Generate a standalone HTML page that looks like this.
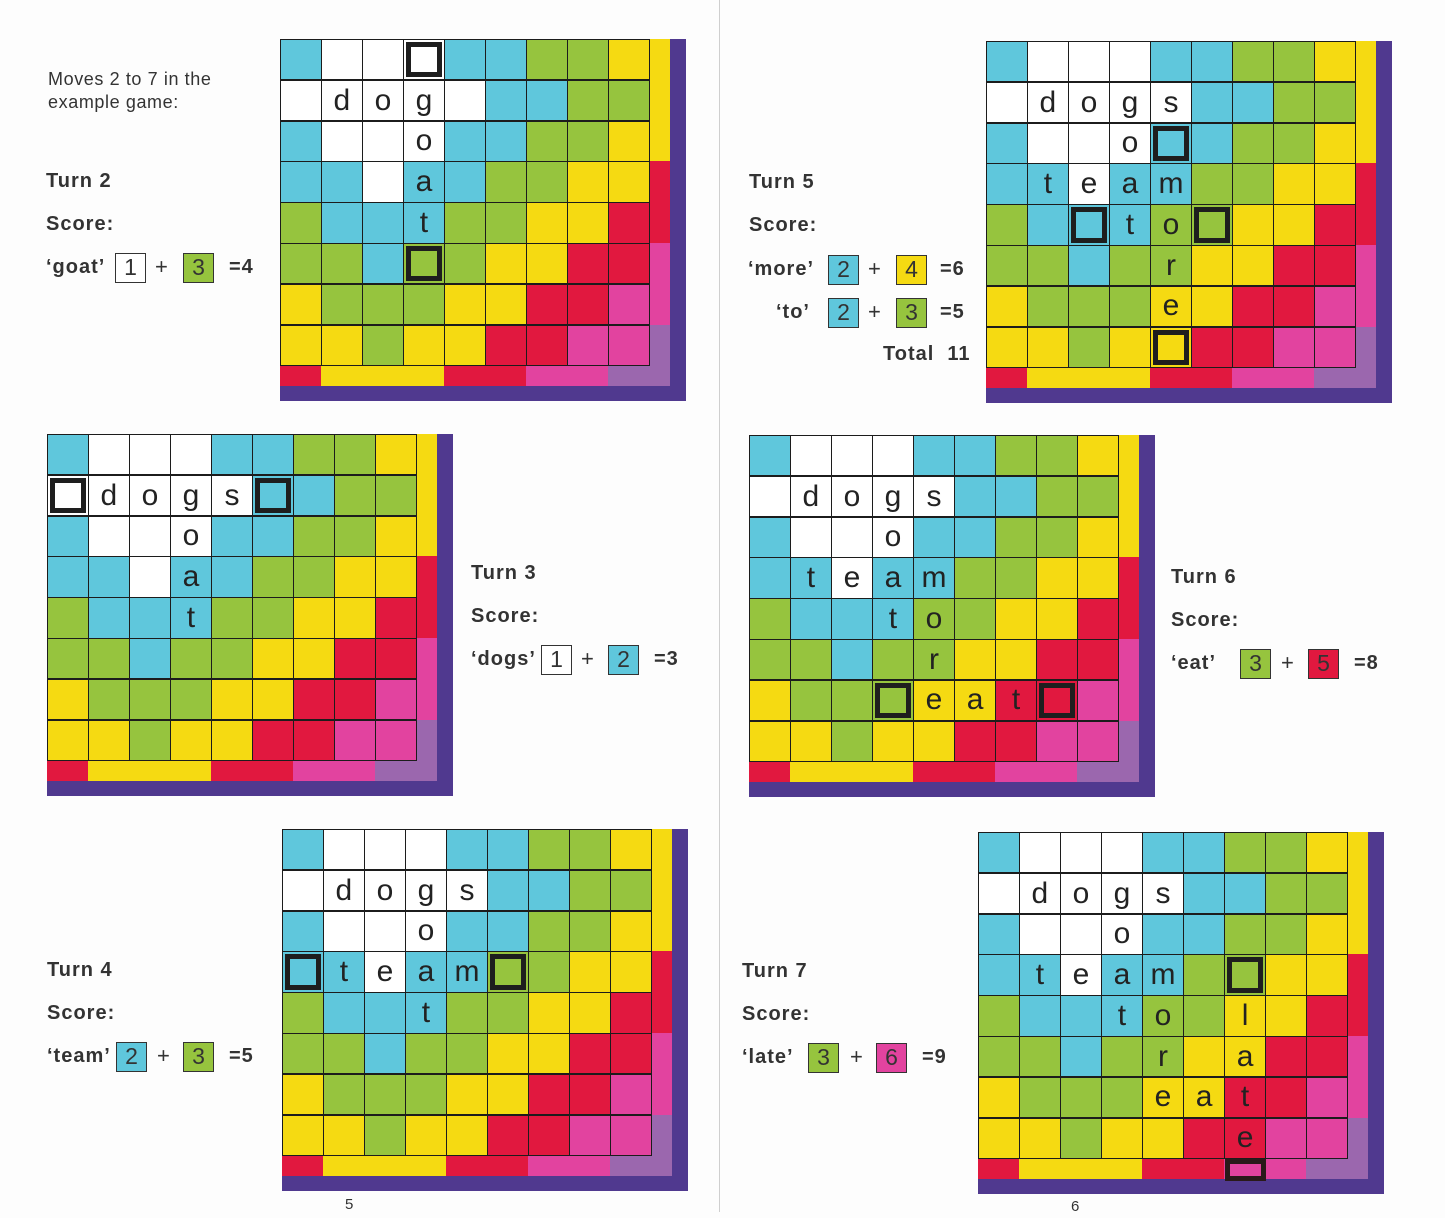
<!DOCTYPE html>
<html><head><meta charset="utf-8"><style>
*{margin:0;padding:0;box-sizing:border-box}
body{width:1445px;height:1212px;background:#fdfdfd;position:relative;overflow:hidden;font-family:"Liberation Sans",sans-serif;color:#2a2a2a}
.fold{position:absolute;left:719px;top:0;width:1px;height:1212px;background:#cfcfcf}
.bd{position:absolute;width:406px;height:362px;background:#50398f}
.gr{position:absolute;left:0;top:0;width:370px;height:327px;background:#1c1c1c;padding:1px;display:grid;grid-template-columns:repeat(9,1fr);grid-template-rows:repeat(8,1fr);gap:1.4px}
.gr div{position:relative;display:flex;align-items:center;justify-content:center;font-size:30px;color:#222;line-height:1}
.c{background:#5fc7dc}.g{background:#96c43e}.y{background:#f5da12}.r{background:#e1183f}.p{background:#e2439f}.w{background:#fff}.l{background:#9b67ae}
.gr div.b::after{content:"";position:absolute;left:2px;top:2px;right:2px;bottom:2px;border:5px solid #1e1e1e}
.s{position:absolute}
.t{position:absolute;font-weight:bold;font-size:20px;letter-spacing:1px;color:#333;white-space:nowrap}
.n{position:absolute;font-size:18px;letter-spacing:0.6px;color:#333;line-height:23px}
.k{position:absolute;width:31px;height:30px;border:1.5px solid #333;font-size:23px;text-align:center;line-height:27px;color:#333}
.pl{position:absolute;font-size:22px;color:#333}
</style></head><body>
<div class="fold"></div>

<div class="n" style="left:48px;top:68px">Moves 2 to 7 in the<br>example game:</div>

<!-- B1 Turn 2 -->
<div class="bd" style="left:280px;top:39px">
<div class="gr">
<div class="c"></div><div class="w"></div><div class="w"></div><div class="w b"></div><div class="c"></div><div class="c"></div><div class="g"></div><div class="g"></div><div class="y"></div>
<div class="w"></div><div class="w">d</div><div class="w">o</div><div class="w">g</div><div class="w"></div><div class="c"></div><div class="c"></div><div class="g"></div><div class="g"></div>
<div class="c"></div><div class="w"></div><div class="w"></div><div class="w">o</div><div class="c"></div><div class="c"></div><div class="g"></div><div class="g"></div><div class="y"></div>
<div class="c"></div><div class="c"></div><div class="w"></div><div class="c">a</div><div class="c"></div><div class="g"></div><div class="g"></div><div class="y"></div><div class="y"></div>
<div class="g"></div><div class="c"></div><div class="c"></div><div class="c">t</div><div class="g"></div><div class="g"></div><div class="y"></div><div class="y"></div><div class="r"></div>
<div class="g"></div><div class="g"></div><div class="c"></div><div class="g b"></div><div class="g"></div><div class="y"></div><div class="y"></div><div class="r"></div><div class="r"></div>
<div class="y"></div><div class="g"></div><div class="g"></div><div class="g"></div><div class="y"></div><div class="y"></div><div class="r"></div><div class="r"></div><div class="p"></div>
<div class="y"></div><div class="y"></div><div class="g"></div><div class="y"></div><div class="y"></div><div class="r"></div><div class="r"></div><div class="p"></div><div class="p"></div>
</div>
<div class="s y" style="left:370px;top:0;width:20px;height:122px"></div><div class="s r" style="left:370px;top:122px;width:20px;height:82px"></div><div class="s p" style="left:370px;top:204px;width:20px;height:82px"></div><div class="s l" style="left:370px;top:286px;width:20px;height:61px"></div>
<div class="s r" style="left:0;top:327px;width:41px;height:20px"></div><div class="s y" style="left:41px;top:327px;width:123px;height:20px"></div><div class="s r" style="left:164px;top:327px;width:82px;height:20px"></div><div class="s p" style="left:246px;top:327px;width:82px;height:20px"></div><div class="s l" style="left:328px;top:327px;width:62px;height:20px"></div>
</div>
<div class="t" style="left:46px;top:170px">Turn 2</div>
<div class="t" style="left:46px;top:213px">Score:</div>
<div class="t" style="left:46px;top:256px">‘goat’</div>
<div class="k w" style="left:115px;top:253px">1</div><div class="pl" style="left:155px;top:254px">+</div><div class="k g" style="left:183px;top:253px">3</div><div class="t" style="left:229px;top:256px">=4</div>

<!-- B2 Turn 3 -->
<div class="bd" style="left:47px;top:434px">
<div class="gr">
<div class="c"></div><div class="w"></div><div class="w"></div><div class="w"></div><div class="c"></div><div class="c"></div><div class="g"></div><div class="g"></div><div class="y"></div>
<div class="w b"></div><div class="w">d</div><div class="w">o</div><div class="w">g</div><div class="w">s</div><div class="c b"></div><div class="c"></div><div class="g"></div><div class="g"></div>
<div class="c"></div><div class="w"></div><div class="w"></div><div class="w">o</div><div class="c"></div><div class="c"></div><div class="g"></div><div class="g"></div><div class="y"></div>
<div class="c"></div><div class="c"></div><div class="w"></div><div class="c">a</div><div class="c"></div><div class="g"></div><div class="g"></div><div class="y"></div><div class="y"></div>
<div class="g"></div><div class="c"></div><div class="c"></div><div class="c">t</div><div class="g"></div><div class="g"></div><div class="y"></div><div class="y"></div><div class="r"></div>
<div class="g"></div><div class="g"></div><div class="c"></div><div class="g"></div><div class="g"></div><div class="y"></div><div class="y"></div><div class="r"></div><div class="r"></div>
<div class="y"></div><div class="g"></div><div class="g"></div><div class="g"></div><div class="y"></div><div class="y"></div><div class="r"></div><div class="r"></div><div class="p"></div>
<div class="y"></div><div class="y"></div><div class="g"></div><div class="y"></div><div class="y"></div><div class="r"></div><div class="r"></div><div class="p"></div><div class="p"></div>
</div>
<div class="s y" style="left:370px;top:0;width:20px;height:122px"></div><div class="s r" style="left:370px;top:122px;width:20px;height:82px"></div><div class="s p" style="left:370px;top:204px;width:20px;height:82px"></div><div class="s l" style="left:370px;top:286px;width:20px;height:61px"></div>
<div class="s r" style="left:0;top:327px;width:41px;height:20px"></div><div class="s y" style="left:41px;top:327px;width:123px;height:20px"></div><div class="s r" style="left:164px;top:327px;width:82px;height:20px"></div><div class="s p" style="left:246px;top:327px;width:82px;height:20px"></div><div class="s l" style="left:328px;top:327px;width:62px;height:20px"></div>
</div>
<div class="t" style="left:471px;top:562px">Turn 3</div>
<div class="t" style="left:471px;top:605px">Score:</div>
<div class="t" style="left:471px;top:648px">‘dogs’</div>
<div class="k w" style="left:541px;top:645px">1</div><div class="pl" style="left:581px;top:646px">+</div><div class="k c" style="left:608px;top:645px">2</div><div class="t" style="left:654px;top:648px">=3</div>

<!-- B3 Turn 4 -->
<div class="bd" style="left:282px;top:829px">
<div class="gr">
<div class="c"></div><div class="w"></div><div class="w"></div><div class="w"></div><div class="c"></div><div class="c"></div><div class="g"></div><div class="g"></div><div class="y"></div>
<div class="w"></div><div class="w">d</div><div class="w">o</div><div class="w">g</div><div class="w">s</div><div class="c"></div><div class="c"></div><div class="g"></div><div class="g"></div>
<div class="c"></div><div class="w"></div><div class="w"></div><div class="w">o</div><div class="c"></div><div class="c"></div><div class="g"></div><div class="g"></div><div class="y"></div>
<div class="c b"></div><div class="c">t</div><div class="w">e</div><div class="c">a</div><div class="c">m</div><div class="g b"></div><div class="g"></div><div class="y"></div><div class="y"></div>
<div class="g"></div><div class="c"></div><div class="c"></div><div class="c">t</div><div class="g"></div><div class="g"></div><div class="y"></div><div class="y"></div><div class="r"></div>
<div class="g"></div><div class="g"></div><div class="c"></div><div class="g"></div><div class="g"></div><div class="y"></div><div class="y"></div><div class="r"></div><div class="r"></div>
<div class="y"></div><div class="g"></div><div class="g"></div><div class="g"></div><div class="y"></div><div class="y"></div><div class="r"></div><div class="r"></div><div class="p"></div>
<div class="y"></div><div class="y"></div><div class="g"></div><div class="y"></div><div class="y"></div><div class="r"></div><div class="r"></div><div class="p"></div><div class="p"></div>
</div>
<div class="s y" style="left:370px;top:0;width:20px;height:122px"></div><div class="s r" style="left:370px;top:122px;width:20px;height:82px"></div><div class="s p" style="left:370px;top:204px;width:20px;height:82px"></div><div class="s l" style="left:370px;top:286px;width:20px;height:61px"></div>
<div class="s r" style="left:0;top:327px;width:41px;height:20px"></div><div class="s y" style="left:41px;top:327px;width:123px;height:20px"></div><div class="s r" style="left:164px;top:327px;width:82px;height:20px"></div><div class="s p" style="left:246px;top:327px;width:82px;height:20px"></div><div class="s l" style="left:328px;top:327px;width:62px;height:20px"></div>
</div>
<div class="t" style="left:47px;top:959px">Turn 4</div>
<div class="t" style="left:47px;top:1002px">Score:</div>
<div class="t" style="left:47px;top:1045px">‘team’</div>
<div class="k c" style="left:116px;top:1042px">2</div><div class="pl" style="left:157px;top:1043px">+</div><div class="k g" style="left:183px;top:1042px">3</div><div class="t" style="left:229px;top:1045px">=5</div>

<!-- B4 Turn 5 -->
<div class="bd" style="left:986px;top:41px">
<div class="gr">
<div class="c"></div><div class="w"></div><div class="w"></div><div class="w"></div><div class="c"></div><div class="c"></div><div class="g"></div><div class="g"></div><div class="y"></div>
<div class="w"></div><div class="w">d</div><div class="w">o</div><div class="w">g</div><div class="w">s</div><div class="c"></div><div class="c"></div><div class="g"></div><div class="g"></div>
<div class="c"></div><div class="w"></div><div class="w"></div><div class="w">o</div><div class="c b"></div><div class="c"></div><div class="g"></div><div class="g"></div><div class="y"></div>
<div class="c"></div><div class="c">t</div><div class="w">e</div><div class="c">a</div><div class="c">m</div><div class="g"></div><div class="g"></div><div class="y"></div><div class="y"></div>
<div class="g"></div><div class="c"></div><div class="c b"></div><div class="c">t</div><div class="g">o</div><div class="g b"></div><div class="y"></div><div class="y"></div><div class="r"></div>
<div class="g"></div><div class="g"></div><div class="c"></div><div class="g"></div><div class="g">r</div><div class="y"></div><div class="y"></div><div class="r"></div><div class="r"></div>
<div class="y"></div><div class="g"></div><div class="g"></div><div class="g"></div><div class="y">e</div><div class="y"></div><div class="r"></div><div class="r"></div><div class="p"></div>
<div class="y"></div><div class="y"></div><div class="g"></div><div class="y"></div><div class="y b"></div><div class="r"></div><div class="r"></div><div class="p"></div><div class="p"></div>
</div>
<div class="s y" style="left:370px;top:0;width:20px;height:122px"></div><div class="s r" style="left:370px;top:122px;width:20px;height:82px"></div><div class="s p" style="left:370px;top:204px;width:20px;height:82px"></div><div class="s l" style="left:370px;top:286px;width:20px;height:61px"></div>
<div class="s r" style="left:0;top:327px;width:41px;height:20px"></div><div class="s y" style="left:41px;top:327px;width:123px;height:20px"></div><div class="s r" style="left:164px;top:327px;width:82px;height:20px"></div><div class="s p" style="left:246px;top:327px;width:82px;height:20px"></div><div class="s l" style="left:328px;top:327px;width:62px;height:20px"></div>
</div>
<div class="t" style="left:749px;top:171px">Turn 5</div>
<div class="t" style="left:749px;top:214px">Score:</div>
<div class="t" style="left:748px;top:258px">‘more’</div>
<div class="k c" style="left:828px;top:255px">2</div><div class="pl" style="left:868px;top:256px">+</div><div class="k y" style="left:896px;top:255px">4</div><div class="t" style="left:940px;top:258px">=6</div>
<div class="t" style="left:776px;top:301px">‘to’</div>
<div class="k c" style="left:828px;top:298px">2</div><div class="pl" style="left:868px;top:299px">+</div><div class="k g" style="left:896px;top:298px">3</div><div class="t" style="left:940px;top:301px">=5</div>
<div class="t" style="left:883px;top:343px">Total&nbsp;&nbsp;11</div>

<!-- B5 Turn 6 -->
<div class="bd" style="left:749px;top:435px">
<div class="gr">
<div class="c"></div><div class="w"></div><div class="w"></div><div class="w"></div><div class="c"></div><div class="c"></div><div class="g"></div><div class="g"></div><div class="y"></div>
<div class="w"></div><div class="w">d</div><div class="w">o</div><div class="w">g</div><div class="w">s</div><div class="c"></div><div class="c"></div><div class="g"></div><div class="g"></div>
<div class="c"></div><div class="w"></div><div class="w"></div><div class="w">o</div><div class="c"></div><div class="c"></div><div class="g"></div><div class="g"></div><div class="y"></div>
<div class="c"></div><div class="c">t</div><div class="w">e</div><div class="c">a</div><div class="c">m</div><div class="g"></div><div class="g"></div><div class="y"></div><div class="y"></div>
<div class="g"></div><div class="c"></div><div class="c"></div><div class="c">t</div><div class="g">o</div><div class="g"></div><div class="y"></div><div class="y"></div><div class="r"></div>
<div class="g"></div><div class="g"></div><div class="c"></div><div class="g"></div><div class="g">r</div><div class="y"></div><div class="y"></div><div class="r"></div><div class="r"></div>
<div class="y"></div><div class="g"></div><div class="g"></div><div class="g b"></div><div class="y">e</div><div class="y">a</div><div class="r">t</div><div class="r b"></div><div class="p"></div>
<div class="y"></div><div class="y"></div><div class="g"></div><div class="y"></div><div class="y"></div><div class="r"></div><div class="r"></div><div class="p"></div><div class="p"></div>
</div>
<div class="s y" style="left:370px;top:0;width:20px;height:122px"></div><div class="s r" style="left:370px;top:122px;width:20px;height:82px"></div><div class="s p" style="left:370px;top:204px;width:20px;height:82px"></div><div class="s l" style="left:370px;top:286px;width:20px;height:61px"></div>
<div class="s r" style="left:0;top:327px;width:41px;height:20px"></div><div class="s y" style="left:41px;top:327px;width:123px;height:20px"></div><div class="s r" style="left:164px;top:327px;width:82px;height:20px"></div><div class="s p" style="left:246px;top:327px;width:82px;height:20px"></div><div class="s l" style="left:328px;top:327px;width:62px;height:20px"></div>
</div>
<div class="t" style="left:1171px;top:566px">Turn 6</div>
<div class="t" style="left:1171px;top:609px">Score:</div>
<div class="t" style="left:1171px;top:652px">‘eat’</div>
<div class="k g" style="left:1240px;top:649px">3</div><div class="pl" style="left:1281px;top:650px">+</div><div class="k r" style="left:1308px;top:649px">5</div><div class="t" style="left:1354px;top:652px">=8</div>

<!-- B6 Turn 7 -->
<div class="bd" style="left:978px;top:832px">
<div class="gr">
<div class="c"></div><div class="w"></div><div class="w"></div><div class="w"></div><div class="c"></div><div class="c"></div><div class="g"></div><div class="g"></div><div class="y"></div>
<div class="w"></div><div class="w">d</div><div class="w">o</div><div class="w">g</div><div class="w">s</div><div class="c"></div><div class="c"></div><div class="g"></div><div class="g"></div>
<div class="c"></div><div class="w"></div><div class="w"></div><div class="w">o</div><div class="c"></div><div class="c"></div><div class="g"></div><div class="g"></div><div class="y"></div>
<div class="c"></div><div class="c">t</div><div class="w">e</div><div class="c">a</div><div class="c">m</div><div class="g"></div><div class="g b"></div><div class="y"></div><div class="y"></div>
<div class="g"></div><div class="c"></div><div class="c"></div><div class="c">t</div><div class="g">o</div><div class="g"></div><div class="y">l</div><div class="y"></div><div class="r"></div>
<div class="g"></div><div class="g"></div><div class="c"></div><div class="g"></div><div class="g">r</div><div class="y"></div><div class="y">a</div><div class="r"></div><div class="r"></div>
<div class="y"></div><div class="g"></div><div class="g"></div><div class="g"></div><div class="y">e</div><div class="y">a</div><div class="r">t</div><div class="r"></div><div class="p"></div>
<div class="y"></div><div class="y"></div><div class="g"></div><div class="y"></div><div class="y"></div><div class="r"></div><div class="r">e</div><div class="p"></div><div class="p"></div>
</div>
<div class="s y" style="left:370px;top:0;width:20px;height:122px"></div><div class="s r" style="left:370px;top:122px;width:20px;height:82px"></div><div class="s p" style="left:370px;top:204px;width:20px;height:82px"></div><div class="s l" style="left:370px;top:286px;width:20px;height:61px"></div>
<div class="s r" style="left:0;top:327px;width:41px;height:20px"></div><div class="s y" style="left:41px;top:327px;width:123px;height:20px"></div><div class="s r" style="left:164px;top:327px;width:82px;height:20px"></div><div class="s p" style="left:246px;top:327px;width:82px;height:20px"></div><div class="s l" style="left:328px;top:327px;width:62px;height:20px"></div>
<div class="s p" style="left:247px;top:327px;width:41px;height:22px;border:5px solid #2a1a1a"></div>
</div>
<div class="t" style="left:742px;top:960px">Turn 7</div>
<div class="t" style="left:742px;top:1003px">Score:</div>
<div class="t" style="left:742px;top:1046px">‘late’</div>
<div class="k g" style="left:808px;top:1043px">3</div><div class="pl" style="left:850px;top:1044px">+</div><div class="k p" style="left:876px;top:1043px">6</div><div class="t" style="left:922px;top:1046px">=9</div>

<div class="n" style="left:345px;top:1193px;font-size:15px">5</div>
<div class="n" style="left:1071px;top:1195px;font-size:15px">6</div>
</body></html>
